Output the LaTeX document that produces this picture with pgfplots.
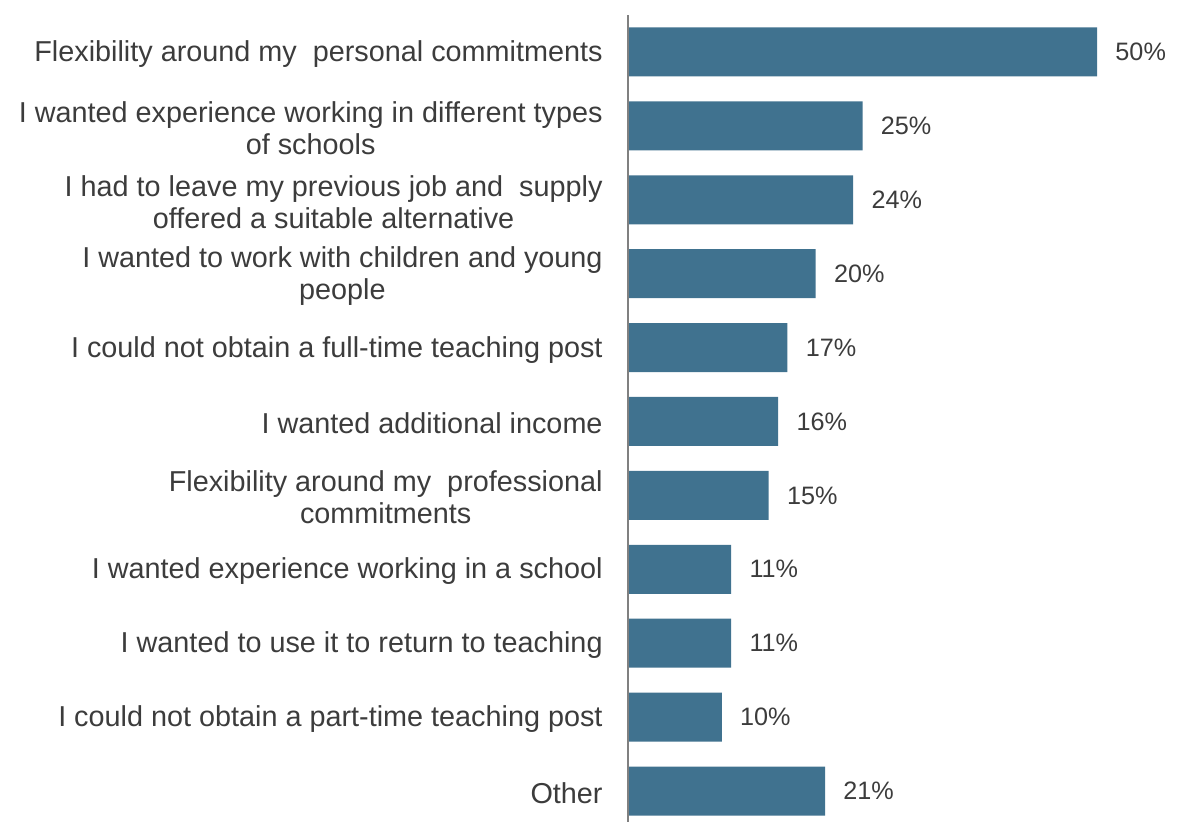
\documentclass[border=0pt]{standalone}
\usepackage{pgfplots}
\pgfplotsset{compat=1.18}
\usepackage{fontspec}
\setmainfont{Liberation Sans}
\definecolor{barblue}{RGB}{64,114,143}
\definecolor{txt}{RGB}{60,60,60}
\definecolor{axgray}{RGB}{128,128,128}
\begin{document}
\begin{tikzpicture}
\begin{axis}[
  scale only axis,
  width=258pt, height=406.5pt,
  xbar, bar width=24.5pt,
  xmin=0, xmax=55,
  ymin=-0.5, ymax=10.5,
  y dir=reverse,
  ytick={0,...,10},
  yticklabels={
    {Flexibility around my\ \ personal commitments},
    {I wanted experience working in different types\\of schools},
    {I had to leave my previous job and\ \ supply\\offered a suitable alternative},
    {I wanted to work with children and young\\people},
    {I could not obtain a full-time teaching post},
    {I wanted additional income},
    {Flexibility around my\ \ professional\\commitments},
    {I wanted experience working in a school},
    {I wanted to use it to return to teaching},
    {I could not obtain a part-time teaching post},
    {Other}},
  yticklabel style={align=center, inner sep=0pt, xshift=-12.5pt, yshift=-1pt,
    font=\fontsize{14.4}{16}\selectfont, text=txt},
  major tick length=0pt,
  xtick=\empty,
  axis line style={draw=none},
  clip=false,
  /pgf/number format/assume math mode=true,
  nodes near coords={\pgfmathprintnumber{\pgfplotspointmeta}\%},
  every node near coord/.append style={font=\fontsize{12.6}{15}\selectfont,
    text=txt, anchor=west, inner sep=0pt, xshift=9pt},
]
\addplot[fill=barblue, draw=none] coordinates {
  (50,0) (25,1) (24,2) (20,3) (17,4) (16,5) (15,6) (11,7) (11,8) (10,9) (21,10)};
\draw[axgray, line width=0.6pt] (rel axis cs:0,0) -- (rel axis cs:0,1);
\end{axis}
\pgfresetboundingbox
\path[use as bounding box] ([xshift=-314pt,yshift=3pt]current axis.south west)
  rectangle ([xshift=280.5pt,yshift=414pt]current axis.south west);
\end{tikzpicture}
\end{document}
